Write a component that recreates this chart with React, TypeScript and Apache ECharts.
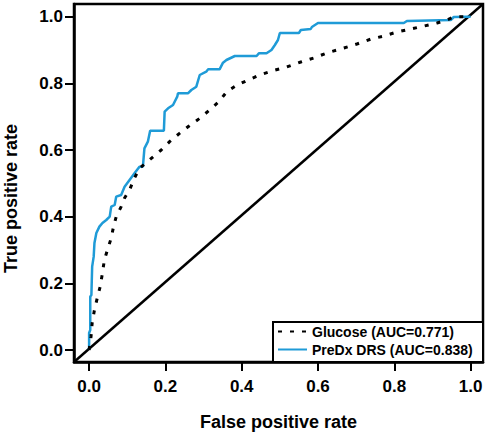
import React, { useEffect, useRef } from "react";
import * as echarts from "echarts";

const xTicks = [0, 0.2, 0.4, 0.6, 0.8, 1.0];
const yTicks = [0, 0.2, 0.4, 0.6, 0.8, 1.0];
const X_MIN = -0.0396;
const X_MAX = 1.0325;
const Y_MIN = -0.036;
const Y_MAX = 1.038;

const seriesNames = ["Glucose (AUC=0.771)", "PreDx DRS (AUC=0.838)"];

const glucosePoints: [number, number][] = [
  [0, 0], [0.005, 0.04], [0.008, 0.081], [0.014, 0.12], [0.022, 0.159],
  [0.029, 0.19], [0.035, 0.231], [0.04, 0.27], [0.048, 0.3], [0.058, 0.336],
  [0.064, 0.37], [0.071, 0.4], [0.084, 0.43], [0.093, 0.456], [0.106, 0.48],
  [0.119, 0.516], [0.132, 0.545], [0.163, 0.575], [0.189, 0.6], [0.211, 0.625],
  [0.237, 0.65], [0.262, 0.672], [0.29, 0.695], [0.316, 0.72], [0.34, 0.745],
  [0.361, 0.775], [0.388, 0.795], [0.417, 0.81], [0.447, 0.825], [0.482, 0.838],
  [0.518, 0.849], [0.555, 0.864], [0.589, 0.876], [0.623, 0.891], [0.668, 0.906],
  [0.702, 0.918], [0.739, 0.933], [0.773, 0.942], [0.807, 0.954], [0.843, 0.963],
  [0.878, 0.972], [0.912, 0.981], [0.938, 0.99], [0.956, 0.999], [0.983, 1.0],
  [1, 1],
];

const predxPoints: [number, number][] = [
  [0, 0], [0, 0.051], [0.003, 0.06], [0.003, 0.16], [0.006, 0.165],
  [0.008, 0.25], [0.012, 0.28], [0.014, 0.321], [0.019, 0.351], [0.027, 0.37],
  [0.035, 0.381], [0.045, 0.39], [0.054, 0.4], [0.058, 0.43], [0.067, 0.435],
  [0.071, 0.46], [0.084, 0.465], [0.093, 0.49], [0.106, 0.51], [0.119, 0.53],
  [0.132, 0.55], [0.141, 0.55], [0.145, 0.605], [0.154, 0.625], [0.16, 0.658],
  [0.196, 0.658], [0.198, 0.715], [0.207, 0.725], [0.22, 0.735], [0.231, 0.76],
  [0.233, 0.77], [0.259, 0.77], [0.268, 0.78], [0.281, 0.79], [0.29, 0.825],
  [0.307, 0.835], [0.312, 0.842], [0.342, 0.842], [0.351, 0.862], [0.36, 0.87],
  [0.382, 0.882], [0.439, 0.882], [0.445, 0.89], [0.465, 0.89], [0.478, 0.9],
  [0.487, 0.915], [0.495, 0.93], [0.5, 0.951], [0.55, 0.951], [0.555, 0.96],
  [0.581, 0.963], [0.584, 0.969], [0.6, 0.981], [0.825, 0.981], [0.833, 0.987],
  [0.948, 0.99], [0.956, 0.999], [0.99, 1.0], [1, 1],
];

const FONT = "'Liberation Sans', Arial, Helvetica, sans-serif";
const BLUE = "#1f9bd7";

export default function App() {
  const ref = useRef<HTMLDivElement>(null);
  useEffect(() => {
    if (!ref.current) return;
    const chart = echarts.init(ref.current, undefined, { renderer: "svg" });
    const labelStyle = {
      color: "#000",
      fontFamily: FONT,
      fontWeight: "bold" as const,
      fontSize: 17,
    };
    chart.setOption({
      animation: false,
      backgroundColor: "#fff",
      grid: {
        left: 74,
        right: 5,
        top: 4,
        bottom: 70,
        containLabel: false,
        outerBoundsMode: "none",
        show: true,
        borderColor: "#000",
        borderWidth: 2.5,
        backgroundColor: "transparent",
      },
      xAxis: {
        type: "value",
        min: X_MIN,
        max: X_MAX,
        name: "False positive rate",
        nameLocation: "middle",
        nameGap: 51,
        nameTextStyle: { ...labelStyle, fontSize: 18 },
        axisLine: { show: true, onZero: false, lineStyle: { color: "#000", width: 2.5 } },
        axisTick: {
          show: true,
          length: 9,
          lineStyle: { color: "#000", width: 2 },
          customValues: xTicks,
        },
        axisLabel: {
          ...labelStyle,
          margin: 16,
          customValues: xTicks,
          formatter: (v: number) => v.toFixed(1),
        },
        splitLine: { show: false },
      },
      yAxis: {
        type: "value",
        min: Y_MIN,
        max: Y_MAX,
        name: "True positive rate",
        nameLocation: "middle",
        nameGap: 54,
        nameRotate: 90,
        nameTextStyle: { ...labelStyle, fontSize: 18, padding: [0, 31, 0, 0] },
        axisLine: { show: true, onZero: false, lineStyle: { color: "#000", width: 2.5 } },
        axisTick: {
          show: true,
          length: 9,
          lineStyle: { color: "#000", width: 2 },
          customValues: yTicks,
        },
        axisLabel: {
          ...labelStyle,
          margin: 11,
          customValues: yTicks,
          formatter: (v: number) => v.toFixed(1),
        },
        splitLine: { show: false },
      },
      legend: {
        orient: "vertical",
        left: 277,
        top: 323,
        itemWidth: 29,
        itemHeight: 14,
        itemGap: 1,
        padding: 0,
        data: seriesNames,
        itemStyle: { opacity: 0, borderWidth: 0 },
        textStyle: {
          color: "#000",
          fontFamily: FONT,
          fontWeight: "bold",
          fontSize: 14,
          lineHeight: 17,
        },
      },
      graphic: [
        {
          type: "rect",
          z: 3,
          shape: { x: 273, y: 322, width: 210, height: 40 },
          style: { fill: "#fff", stroke: "#000", lineWidth: 2 },
        },
      ],
      series: [
        {
          name: "diagonal",
          type: "line",
          data: [
            [X_MIN, Y_MIN],
            [X_MAX, Y_MAX],
          ],
          symbol: "none",
          lineStyle: { color: "#000", width: 2.5 },
          silent: true,
          z: 1,
        },
        {
          name: seriesNames[1],
          type: "line",
          data: predxPoints,
          symbol: "none",
          lineStyle: { color: BLUE, width: 2.5 },
          itemStyle: { color: BLUE },
          z: 2,
        },
        {
          name: seriesNames[0],
          type: "line",
          data: glucosePoints,
          symbol: "none",
          lineStyle: { color: "#000", width: 3, type: [4, 8] },
          itemStyle: { color: "#000" },
          z: 3,
        },
      ],
    });
    return () => chart.dispose();
  }, []);
  return (
    <div
      ref={ref}
      style={{ position: "fixed", left: 0, top: 0, width: 488, height: 432 }}
    />
  );
}
